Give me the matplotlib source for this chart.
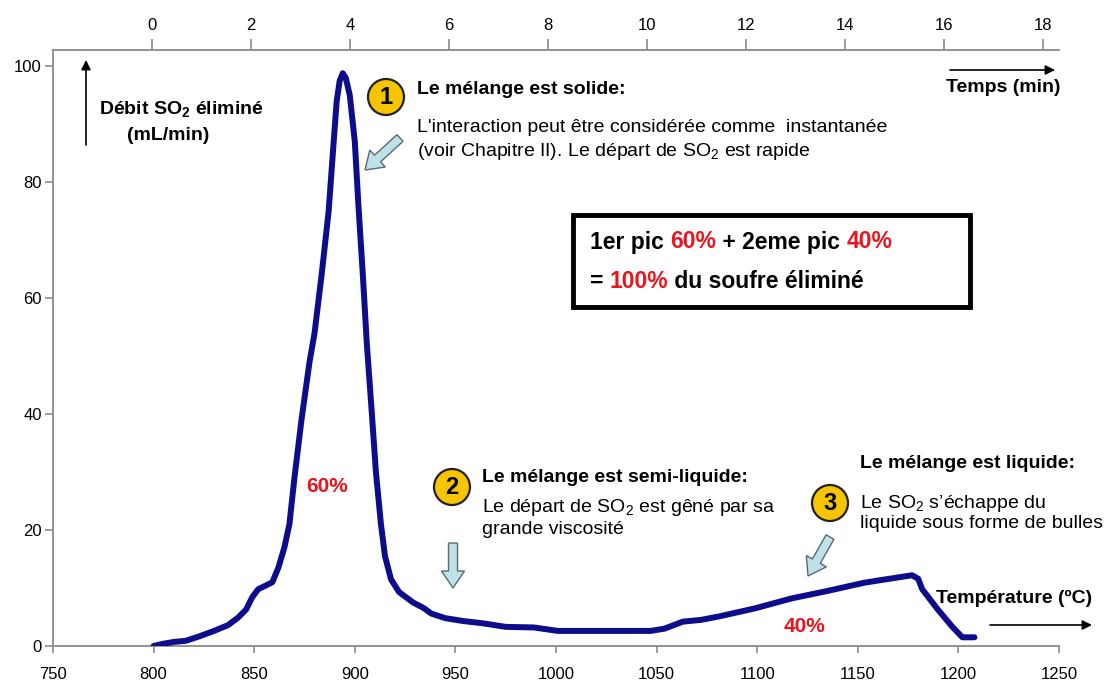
import matplotlib
matplotlib.use("Agg")
import matplotlib.pyplot as plt
from matplotlib.patches import Circle, FancyArrow, Rectangle
from matplotlib.transforms import Affine2D

plt.rcParams['font.family'] = ['Liberation Sans', 'DejaVu Sans']
plt.rcParams['mathtext.fontset'] = 'custom'
plt.rcParams['mathtext.rm'] = 'Liberation Sans'
plt.rcParams['mathtext.bf'] = 'Liberation Sans:bold'
plt.rcParams['mathtext.default'] = 'regular'

# data
temperature = [800, 805, 810, 816, 823, 830, 837, 842, 846, 849, 852, 855, 859,
               862, 865, 867.5, 870, 873.5, 877.5, 880, 883.5, 887, 889.3, 891,
               892.5, 894, 895.5, 897.5, 900, 901.8, 904, 906, 908.5, 910.5, 913,
               915, 918, 922, 929, 934, 938, 945, 954, 964, 975, 989, 1001, 1047,
               1054, 1063, 1072, 1081, 1099, 1117, 1135, 1153, 1162, 1177, 1180,
               1182, 1190, 1197, 1202, 1208]
debit = [0, 0.4, 0.7, 0.9, 1.7, 2.6, 3.6, 4.9, 6.3, 8.4, 9.8, 10.3, 11.0,
         13.5, 17, 21, 29, 39, 49, 54, 64, 75, 86, 94,
         97.5, 98.8, 98, 95, 87, 76, 64, 52, 40, 30, 21,
         15.5, 11.5, 9.3, 7.5, 6.6, 5.6, 4.8, 4.3, 3.9, 3.3, 3.2, 2.6, 2.6,
         3.0, 4.2, 4.5, 5.1, 6.5, 8.2, 9.5, 10.9, 11.4, 12.2, 11.6,
         9.8, 6.2, 3.3, 1.5, 1.5]

temp_ticks = [750, 800, 850, 900, 950, 1000, 1050, 1100, 1150, 1200, 1250]
time_ticks = [0, 2, 4, 6, 8, 10, 12, 14, 16, 18]
debit_ticks = [0, 20, 40, 60, 80, 100]

W, H = 1108, 686
RED = '#e8141e'
fig = plt.figure(figsize=(W / 100, H / 100), dpi=100)
ax = fig.add_axes([53 / W, 1 - 646 / H, 1006 / W, 596 / H])
# pixel coords of the reference image (y down)
T = Affine2D().scale(1, -1).translate(0, H)

ax.plot(temperature, debit, color='#0d0d8c', lw=4.3,
        solid_capstyle='round', solid_joinstyle='round', zorder=3)
ax.set_xlim(750, 1250)
ax.set_ylim(0, 102.8)
ax.set_xticks(temp_ticks)
ax.set_yticks(debit_ticks)
ax.spines['top'].set_visible(False)
ax.spines['right'].set_visible(False)
for s in ['left', 'bottom']:
    ax.spines[s].set_color('#8a8a8a')
    ax.spines[s].set_linewidth(1.3)
ax.tick_params(axis='x', length=5, width=1.2, color='#8a8a8a', pad=10, labelsize=12)
ax.tick_params(axis='y', length=6, width=1.2, color='#8a8a8a', pad=2, labelsize=12)

ax2 = ax.twiny()
ax2.set_xlim(-2.0, 18.32)
ax2.set_xticks(time_ticks)
for s in ['left', 'bottom', 'right']:
    ax2.spines[s].set_visible(False)
ax2.spines['top'].set_color('#8a8a8a')
ax2.spines['top'].set_linewidth(1.3)
ax2.tick_params(axis='x', length=8, width=1.2, color='#8a8a8a', pad=4, labelsize=12)


def txt(x, y, parts, size=14, weight='normal', va='center'):
    # parts: list of (string, colour); pieces are chained left to right
    prev = None
    for s, c in parts:
        if prev is None:
            prev = ax.annotate(s, xy=(x, y), xycoords=T, ha='left', va=va,
                               fontsize=size, fontweight=weight, color=c, zorder=6)
        else:
            prev = ax.annotate(s, xy=(1, 0), xycoords=prev, ha='left', va='bottom',
                               fontsize=size, fontweight=weight, color=c, zorder=6)
    return prev


def arrow(x0, y0, x1, y1):
    ax.annotate('', xy=(x1, y1), xytext=(x0, y0), xycoords=T, textcoords=T,
                arrowprops=dict(arrowstyle='-|>', color='black', lw=1.2,
                                mutation_scale=14, shrinkA=0, shrinkB=0))


def badge(x, y, n):
    ax.add_patch(Circle((x, y), 18, transform=T, fc='#f6c500', ec='#222222',
                        lw=1.6, clip_on=False, zorder=5))
    ax.annotate(str(n), xy=(x, y + 1), xycoords=T, ha='center', va='center',
                fontsize=17, fontweight='bold', color='black', zorder=6)


def block_arrow(x0, y0, x1, y1):
    ax.add_patch(FancyArrow(x0, y0, x1 - x0, y1 - y0, width=9, head_width=23,
                            head_length=17, length_includes_head=True,
                            fc='#bfe2e8', ec='#5a6a70', lw=1.0, transform=T,
                            clip_on=False, zorder=5))


# axis titles
arrow(86, 145, 86, 60)
txt(99, 109, [(r'Débit SO$_\mathbf{2}$ éliminé', 'black')], weight='bold')
ax.annotate('(mL/min)', xy=(168, 135), xycoords=T, ha='center', va='center',
            fontsize=14, fontweight='bold')
arrow(950, 70, 1055, 70)
ax.annotate('Temps (min)', xy=(1003, 87), xycoords=T, ha='center', va='center',
            fontsize=14, fontweight='bold')
ax.annotate('Température (ºC)', xy=(1014, 598), xycoords=T, ha='center', va='center',
            fontsize=14, fontweight='bold')
arrow(990, 625, 1092, 625)

# annotation 1
badge(386, 97, 1)
txt(417, 89, [('Le mélange est solide:', 'black')], weight='bold')
txt(417, 128, [("L'interaction peut être considérée comme  instantanée", 'black')])
txt(417, 152, [(r'(voir Chapitre II). Le départ de SO$_2$ est rapide', 'black')])
block_arrow(400, 138, 365, 170)

# annotation 2
badge(452, 487, 2)
txt(482, 478, [('Le mélange est semi-liquide:', 'black')], weight='bold')
txt(482, 507, [(r'Le départ de SO$_2$ est gêné par sa', 'black')])
txt(482, 529, [('grande viscosité', 'black')])
block_arrow(453, 543, 453, 588)

# annotation 3
badge(830, 503, 3)
txt(860, 463, [('Le mélange est liquide:', 'black')], weight='bold')
txt(860, 503, [(r'Le SO$_2$ s’échappe du', 'black')])
txt(860, 524, [('liquide sous forme de bulles', 'black')])
block_arrow(830, 537, 808, 576)

# percentages
ax.annotate('60%', xy=(327, 487), xycoords=T, ha='center', va='center',
            fontsize=15, fontweight='bold', color=RED)
ax.annotate('40%', xy=(805, 626), xycoords=T, ha='center', va='center',
            fontsize=15, fontweight='bold', color=RED)

# summary box
ax.add_patch(Rectangle((573, 215), 397, 92, transform=T, fill=False,
                       ec='black', lw=3.5, clip_on=False, zorder=5))
txt(590, 242, [('1er pic ', 'black'), ('60%', RED), (' + 2eme pic ', 'black'),
               ('40%', RED)], size=16.5, weight='bold')
txt(590, 282, [('= ', 'black'), ('100%', RED), (' du soufre éliminé', 'black')],
    size=16.5, weight='bold')

fig.savefig('out.png', dpi=100)
